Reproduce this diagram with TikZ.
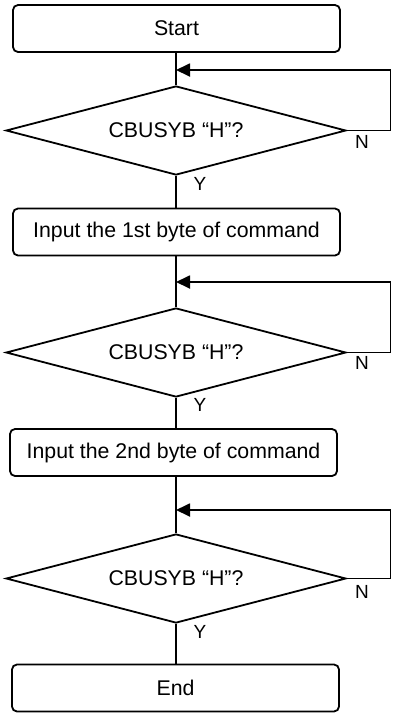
\documentclass[tikz,border=0pt]{standalone}
\usepackage{fontspec}
\setmainfont{Liberation Sans}
\usetikzlibrary{shapes.geometric,arrows.meta}
\begin{document}
\begin{tikzpicture}[x=1pt,y=-1pt,
  box/.style={draw,rounded corners=5pt,line width=1.8pt,minimum width=327pt,minimum height=47pt,inner sep=0pt,font=\fontsize{21.3}{25}\selectfont},
  dec/.style={draw,diamond,line width=1.8pt,minimum width=340pt,minimum height=89pt,inner sep=0pt,shape aspect=3.8,font=\fontsize{21.3}{25}\selectfont},
  lbl/.style={font=\fontsize{19}{21}\selectfont,inner sep=0pt},
  conn/.style={line width=1.8pt},
  arr/.style={line width=1.8pt,-{Triangle[length=14pt,width=13pt]}}]
\useasboundingbox (0,0) rectangle (392,713);
\node[box] (start) at (176.5,28.5) {Start};
\node[dec] (d1) at (176,130.5) {CBUSYB “H”?};
\node[box] (b1) at (176.5,232) {Input the 1st byte of command};
\node[dec] (d2) at (176,352.5) {CBUSYB “H”?};
\node[box] (b2) at (173.5,452.5) {Input the 2nd byte of command};
\node[dec] (d3) at (176,578.5) {CBUSYB “H”?};
\node[box] (end) at (175.5,688) {End};
\coordinate (j1) at (176,70);
\coordinate (r1) at (390.5,70);
\coordinate (j2) at (176,282);
\coordinate (r2) at (390.5,282);
\coordinate (j3) at (176,510);
\coordinate (r3) at (390.5,510);
\draw[conn] (d1.north |- start.south) -- (d1.north);
\draw[arr] (d1.east) -| (r1) -- (j1);
\draw[conn] (d1.south) -- (d1.south |- b1.north);
\draw[conn] (d2.north |- b1.south) -- (d2.north);
\draw[arr] (d2.east) -| (r2) -- (j2);
\draw[conn] (d2.south) -- (d2.south |- b2.north);
\draw[conn] (d3.north |- b2.south) -- (d3.north);
\draw[arr] (d3.east) -| (r3) -- (j3);
\draw[conn] (d3.south) -- (d3.south |- end.north);
\node[lbl] (y1) at (200,183.5) {Y};
\node[lbl] (n1) at (362,141.5) {N};
\node[lbl] (y2) at (200,405) {Y};
\node[lbl] (n2) at (362,363) {N};
\node[lbl] (y3) at (200,632) {Y};
\node[lbl] (n3) at (362,592) {N};
\end{tikzpicture}
\end{document}
